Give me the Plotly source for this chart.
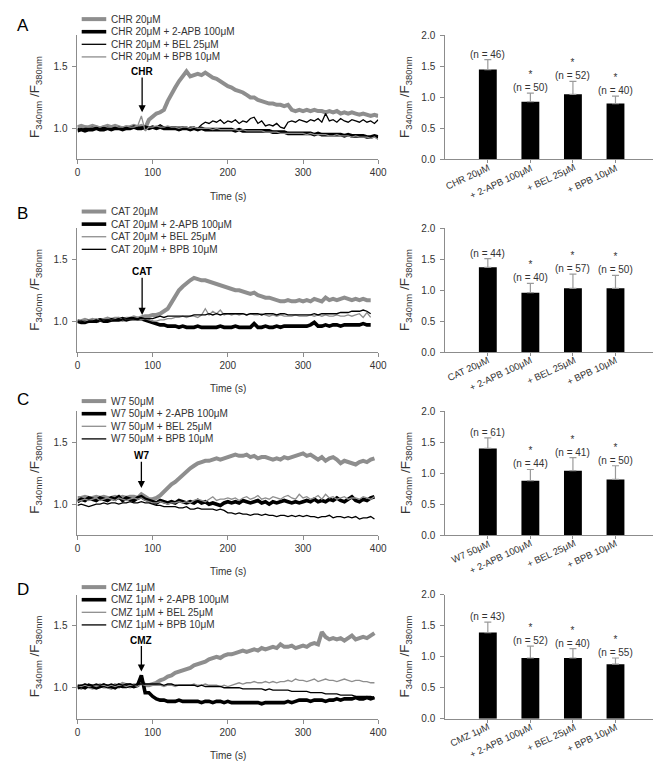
import plotly.graph_objects as go

# -- Time bases (s) -----------------------------------------------------------
T_A = list(range(0, 405, 5))
T_B = list(range(0, 395, 5))
T_C = list(range(0, 400, 5))
T_D = list(range(0, 400, 5))

# -- Panel A: CHR traces ------------------------------------------------------
A_MAIN = [1.01, 1.02, 1.01, 1.01, 1.02, 1.01, 1.00, 1.01, 1.02, 1.01, 1.02, 1.01, 1.00, 1.01, 1.01, 1.02, 1.01, 1.02,
          1.00, 1.07, 1.10, 1.12, 1.13, 1.15, 1.22, 1.28, 1.33, 1.38, 1.42, 1.46, 1.42, 1.43, 1.44, 1.43, 1.45, 1.43,
          1.41, 1.40, 1.38, 1.36, 1.34, 1.33, 1.31, 1.30, 1.29, 1.27, 1.25, 1.25, 1.23, 1.22, 1.21, 1.20, 1.20, 1.19,
          1.19, 1.18, 1.19, 1.15, 1.14, 1.15, 1.14, 1.15, 1.14, 1.15, 1.14, 1.14, 1.13, 1.14, 1.13, 1.14, 1.12, 1.13,
          1.12, 1.13, 1.12, 1.11, 1.12, 1.11, 1.10, 1.11, 1.10]
A_APB = [0.98, 0.99, 0.98, 0.99, 0.99, 1.00, 0.99, 0.99, 1.00, 0.99, 1.00, 1.00, 0.99, 1.00, 1.00, 1.01, 1.00, 1.00, 1.01, 1.00,
         1.01, 1.00, 1.01, 1.00, 1.00, 1.00, 1.00, 0.99, 1.00, 1.00, 0.99, 1.00, 0.99, 1.00, 0.99, 0.99, 0.99, 0.99, 0.99, 0.99,
         0.99, 0.99, 0.98, 0.99, 0.98, 0.98, 0.98, 0.98, 0.98, 0.98, 0.98, 0.98, 0.97, 0.97, 0.97, 0.97, 0.96, 0.96, 0.96, 0.96,
         0.96, 0.96, 0.96, 0.95, 0.96, 0.95, 0.95, 0.95, 0.95, 0.95, 0.95, 0.94, 0.95, 0.94, 0.94, 0.94, 0.94, 0.93, 0.93, 0.94, 0.93]
A_BEL = [1.00, 0.99, 1.00, 1.00, 1.01, 1.00, 1.00, 1.01, 1.00, 1.00, 1.01, 1.01, 1.00, 1.01, 1.00, 1.01, 1.00, 1.01, 1.00, 1.01,
         1.01, 1.01, 1.03, 1.01, 1.01, 1.01, 1.01, 1.01, 1.01, 1.00, 1.01, 1.01, 1.00, 1.03, 1.05, 1.04, 1.06, 1.05, 1.07, 1.04,
         1.06, 1.05, 1.07, 1.04, 1.06, 1.05, 1.08, 1.09, 1.04, 1.06, 1.02, 1.03, 1.02, 1.04, 1.01, 1.00, 1.05, 1.06, 1.05, 1.07,
         1.06, 1.05, 1.07, 1.06, 1.08, 1.05, 1.12, 1.06, 1.07, 1.05, 1.08, 1.06, 1.05, 1.07, 1.06, 1.05, 1.07, 1.05, 1.06, 1.04, 1.07]
A_BPB = [1.02, 1.01, 1.02, 1.01, 1.01, 1.02, 1.01, 1.02, 1.01, 1.01, 1.02, 1.01, 1.01, 1.02, 1.01, 1.01, 1.02, 1.10, 0.98, 1.01,
         1.01, 1.02, 1.01, 1.01, 1.02, 1.01, 1.01, 1.00, 1.01, 1.01, 1.00, 1.01, 1.00, 1.00, 1.00, 1.00, 0.99, 1.00, 0.99, 0.99,
         0.99, 0.99, 0.99, 0.98, 0.99, 0.98, 0.98, 0.98, 0.98, 0.98, 0.97, 0.97, 0.97, 0.97, 0.96, 0.96, 0.96, 0.96, 0.96, 0.96,
         0.96, 0.95, 0.96, 0.95, 0.95, 0.95, 0.95, 0.94, 0.94, 0.95, 0.94, 0.94, 0.94, 0.93, 0.94, 0.93, 0.93, 0.93, 0.92, 0.93, 0.91]

# -- Panel B: CAT traces ------------------------------------------------------
B_MAIN = [1.00, 1.00, 1.01, 1.00, 1.01, 1.00, 1.01, 1.01, 1.02, 1.01, 1.02, 1.02, 1.01, 1.02, 1.02, 1.03, 1.02, 1.03, 1.04, 1.04,
          1.05, 1.05, 1.06, 1.08, 1.10, 1.15, 1.20, 1.25, 1.28, 1.31, 1.33, 1.35, 1.34, 1.33, 1.33, 1.32, 1.31, 1.30, 1.29, 1.28,
          1.27, 1.26, 1.25, 1.25, 1.24, 1.23, 1.22, 1.23, 1.21, 1.20, 1.19, 1.19, 1.18, 1.17, 1.16, 1.16, 1.17, 1.16, 1.16, 1.17,
          1.16, 1.17, 1.16, 1.18, 1.17, 1.16, 1.19, 1.17, 1.18, 1.17, 1.18, 1.19, 1.18, 1.17, 1.18, 1.17, 1.18, 1.17, 1.17]
B_APB = [1.00, 0.99, 0.99, 1.00, 1.00, 1.00, 1.01, 1.00, 1.00, 1.01, 1.01, 1.01, 1.02, 1.01, 1.02, 1.02, 1.02, 1.02, 1.01, 1.00,
         0.99, 0.98, 0.97, 0.97, 0.96, 0.96, 0.96, 0.95, 0.96, 0.95, 0.95, 0.95, 0.96, 0.95, 0.95, 0.95, 0.95, 0.95, 0.96, 0.95,
         0.95, 0.95, 0.96, 0.95, 0.95, 0.95, 0.95, 0.98, 0.95, 0.95, 0.96, 0.95, 0.95, 0.96, 0.95, 0.96, 0.96, 0.96, 0.96, 0.96,
         0.96, 0.96, 0.97, 0.99, 0.96, 0.96, 0.97, 0.96, 0.97, 0.97, 0.96, 0.97, 0.97, 0.97, 0.97, 0.97, 0.98, 0.97, 0.97]
B_BEL = [1.01, 1.00, 1.00, 1.01, 1.01, 1.02, 1.00, 1.01, 1.02, 1.01, 1.02, 1.03, 1.01, 1.02, 1.02, 1.02, 1.03, 1.01, 1.02, 1.01,
         1.00, 1.00, 1.01, 1.01, 1.02, 1.02, 1.03, 1.03, 1.04, 1.03, 1.04, 1.04, 1.03, 1.05, 1.10, 1.05, 1.08, 1.06, 1.09, 1.05,
         1.06, 1.05, 1.06, 1.05, 1.06, 1.05, 1.06, 1.05, 1.05, 1.06, 1.05, 1.04, 1.05, 1.04, 1.05, 1.04, 1.04, 1.04, 1.05, 1.04,
         1.04, 1.04, 1.05, 1.04, 1.05, 1.04, 1.05, 1.04, 1.04, 1.05, 1.04, 1.04, 1.05, 1.04, 1.05, 1.06, 1.03, 1.07, 1.03]
B_BPB = [1.00, 1.00, 0.99, 1.00, 1.00, 1.01, 1.00, 1.01, 1.01, 1.01, 1.01, 1.02, 1.01, 1.02, 1.02, 1.02, 1.02, 1.02, 1.02, 1.02,
         1.02, 1.03, 1.04, 1.03, 1.04, 1.04, 1.04, 1.04, 1.04, 1.04, 1.04, 1.05, 1.05, 1.05, 1.05, 1.06, 1.05, 1.06, 1.05, 1.06,
         1.06, 1.06, 1.06, 1.06, 1.06, 1.05, 1.06, 1.06, 1.06, 1.05, 1.06, 1.06, 1.06, 1.05, 1.06, 1.06, 1.05, 1.05, 1.05, 1.05,
         1.05, 1.05, 1.05, 1.06, 1.05, 1.06, 1.06, 1.06, 1.06, 1.06, 1.07, 1.07, 1.07, 1.08, 1.08, 1.08, 1.09, 1.08, 1.06]

# -- Panel C: W7 traces -------------------------------------------------------
C_MAIN = [1.05, 1.05, 1.06, 1.05, 1.05, 1.06, 1.05, 1.06, 1.05, 1.05, 1.06, 1.05, 1.06, 1.05, 1.06, 1.06, 1.05, 1.08, 1.06, 1.04,
          1.04, 1.05, 1.07, 1.10, 1.14, 1.16, 1.18, 1.21, 1.24, 1.27, 1.29, 1.31, 1.33, 1.34, 1.35, 1.35, 1.36, 1.37, 1.36, 1.37,
          1.38, 1.39, 1.40, 1.39, 1.39, 1.40, 1.38, 1.39, 1.37, 1.38, 1.38, 1.37, 1.36, 1.37, 1.36, 1.38, 1.37, 1.38, 1.39, 1.40,
          1.41, 1.39, 1.40, 1.38, 1.36, 1.38, 1.35, 1.37, 1.38, 1.36, 1.33, 1.35, 1.34, 1.33, 1.32, 1.34, 1.35, 1.34, 1.36, 1.37]
C_APB = [1.02, 1.04, 1.03, 1.05, 1.04, 1.03, 1.05, 1.04, 1.03, 1.05, 1.04, 1.06, 1.03, 1.05, 1.04, 1.03, 1.05, 1.06, 1.04, 1.03,
         1.02, 1.01, 1.03, 1.02, 1.01, 1.02, 1.01, 1.03, 1.02, 1.01, 1.02, 1.01, 1.03, 1.01, 1.02, 1.00, 1.01, 1.00, 0.99, 1.01,
         1.02, 1.01, 1.02, 1.01, 1.03, 1.02, 1.01, 1.02, 1.03, 1.01, 1.02, 1.00, 1.02, 1.01, 1.02, 1.03, 1.02, 1.01, 1.02, 1.01,
         1.02, 1.03, 1.02, 1.04, 1.02, 1.03, 1.02, 1.04, 1.03, 1.05, 1.03, 1.02, 1.04, 1.06, 1.03, 1.02, 1.04, 1.03, 1.05, 1.06]
C_BEL = [1.02, 1.03, 1.04, 1.03, 1.04, 1.05, 1.03, 1.04, 1.05, 1.04, 1.03, 1.05, 1.04, 1.03, 1.04, 1.05, 1.04, 1.05, 1.03, 1.02,
         1.01, 1.01, 1.02, 1.01, 1.00, 1.01, 1.01, 1.02, 1.01, 1.02, 1.01, 1.03, 1.04, 1.03, 1.02, 1.04, 1.06, 1.03, 1.04, 1.04,
         1.05, 1.04, 1.05, 1.03, 1.05, 1.06, 1.04, 1.05, 1.07, 1.04, 1.05, 1.04, 1.06, 1.05, 1.04, 1.06, 1.07, 1.05, 1.04, 1.08,
         1.05, 1.06, 1.04, 1.05, 1.07, 1.04, 1.08, 1.05, 1.06, 1.04, 1.05, 1.06, 1.04, 1.05, 1.05, 1.04, 1.06, 1.05, 1.04, 1.06]
C_BPB = [0.99, 1.00, 0.99, 0.98, 0.99, 1.00, 1.00, 1.01, 1.00, 1.01, 1.01, 1.00, 1.01, 1.01, 1.02, 1.01, 1.01, 1.02, 1.01, 1.01,
         1.00, 0.99, 0.99, 0.98, 0.98, 0.98, 0.98, 0.97, 0.97, 0.98, 0.96, 0.96, 0.97, 0.96, 0.96, 0.96, 0.96, 0.95, 0.96, 0.95,
         0.93, 0.93, 0.92, 0.93, 0.92, 0.92, 0.91, 0.92, 0.92, 0.91, 0.92, 0.91, 0.91, 0.90, 0.91, 0.91, 0.90, 0.91, 0.90, 0.91,
         0.90, 0.91, 0.90, 0.90, 0.89, 0.90, 0.90, 0.91, 0.89, 0.90, 0.90, 0.89, 0.90, 0.89, 0.90, 0.88, 0.89, 0.89, 0.90, 0.88]

# -- Panel D: CMZ traces ------------------------------------------------------
D_MAIN = [1.01, 1.00, 1.02, 1.01, 1.00, 1.01, 1.02, 1.01, 1.01, 1.00, 1.02, 1.01, 1.03, 1.02, 1.01, 1.02, 1.02, 1.05, 1.02, 1.02,
          1.03, 1.04, 1.06, 1.07, 1.09, 1.10, 1.12, 1.13, 1.14, 1.15, 1.16, 1.18, 1.19, 1.20, 1.21, 1.23, 1.24, 1.25, 1.24, 1.26,
          1.27, 1.27, 1.28, 1.29, 1.30, 1.29, 1.30, 1.31, 1.30, 1.32, 1.31, 1.32, 1.33, 1.32, 1.35, 1.33, 1.33, 1.34, 1.32, 1.33,
          1.34, 1.33, 1.35, 1.36, 1.35, 1.45, 1.41, 1.39, 1.40, 1.39, 1.40, 1.38, 1.40, 1.42, 1.39, 1.40, 1.41, 1.40, 1.42, 1.44]
D_APB = [1.00, 1.01, 1.00, 1.02, 1.01, 1.00, 1.01, 1.02, 1.01, 1.01, 1.00, 1.02, 1.01, 1.01, 1.02, 1.01, 1.02, 1.10, 0.96, 0.96,
         0.93, 0.91, 0.90, 0.90, 0.89, 0.89, 0.89, 0.90, 0.89, 0.89, 0.89, 0.89, 0.89, 0.88, 0.89, 0.89, 0.88, 0.89, 0.89, 0.88,
         0.89, 0.88, 0.88, 0.88, 0.88, 0.88, 0.88, 0.88, 0.88, 0.87, 0.88, 0.88, 0.88, 0.88, 0.88, 0.88, 0.89, 0.88, 0.89, 0.90,
         0.90, 0.90, 0.89, 0.90, 0.90, 0.90, 0.89, 0.90, 0.90, 0.91, 0.90, 0.91, 0.91, 0.91, 0.92, 0.91, 0.91, 0.92, 0.91, 0.92]
D_BEL = [1.02, 1.01, 1.02, 1.01, 1.02, 1.01, 1.02, 1.02, 1.01, 1.02, 1.01, 1.02, 1.02, 1.01, 1.02, 1.02, 1.01, 1.03, 1.02, 1.02,
         1.02, 1.02, 1.02, 1.01, 1.02, 1.02, 1.01, 1.02, 1.02, 1.02, 1.02, 1.03, 1.02, 1.02, 1.03, 1.02, 1.02, 1.02, 1.01, 1.02,
         1.01, 1.02, 1.03, 1.04, 1.03, 1.04, 1.04, 1.05, 1.04, 1.04, 1.05, 1.04, 1.05, 1.04, 1.05, 1.05, 1.06, 1.05, 1.07, 1.06,
         1.06, 1.05, 1.06, 1.07, 1.05, 1.06, 1.07, 1.06, 1.06, 1.05, 1.06, 1.07, 1.06, 1.05, 1.06, 1.06, 1.05, 1.05, 1.04, 1.04]
D_BPB = [1.02, 1.02, 1.03, 1.02, 1.02, 1.03, 1.02, 1.03, 1.02, 1.03, 1.02, 1.03, 1.02, 1.03, 1.03, 1.02, 1.03, 1.03, 1.03, 1.03,
         1.03, 1.03, 1.03, 1.02, 1.03, 1.03, 1.02, 1.02, 1.02, 1.02, 1.02, 1.02, 1.01, 1.02, 1.01, 1.01, 1.01, 1.01, 1.01, 1.00,
         1.00, 1.00, 1.00, 1.00, 0.99, 0.99, 0.99, 0.99, 0.99, 0.99, 0.98, 0.99, 0.98, 0.98, 0.98, 0.98, 0.98, 0.97, 0.97, 0.97,
         0.97, 0.97, 0.96, 0.96, 0.96, 0.96, 0.95, 0.95, 0.95, 0.95, 0.94, 0.94, 0.94, 0.94, 0.93, 0.93, 0.93, 0.93, 0.93, 0.92]

# -- Bar summaries --------------------------------------------------------------
AGENTS      = ["CHR", "CAT", "W7", "CMZ"]
DOSES       = ["20μM", "20μM", "50μM", "1μM"]
BLOCKERS    = ["2-APB 100μM", "BEL 25μM", "BPB 10μM"]
BAR_MEAN    = [[1.45, 0.93, 1.05, 0.90],
               [1.37, 0.96, 1.03, 1.03],
               [1.40, 0.88, 1.04, 0.90],
               [1.39, 0.98, 0.98, 0.88]]
BAR_ERR     = [[0.16, 0.14, 0.21, 0.12],
               [0.14, 0.15, 0.23, 0.21],
               [0.17, 0.18, 0.21, 0.22],
               [0.17, 0.19, 0.15, 0.10]]
BAR_N       = [[46, 50, 52, 40],
               [44, 40, 57, 50],
               [61, 44, 41, 50],
               [43, 52, 40, 55]]
SIGNIF      = [False, True, True, True]

# stimulus arrow: time, head level, label level
ARROW_T     = [86, 86, 85, 85]
ARROW_HEAD  = [1.13, 1.05, 1.13, 1.13]
ARROW_LABEL = [1.46, 1.40, 1.39, 1.385]

TIMES  = [T_A, T_B, T_C, T_D]
TRACES = [[A_MAIN, A_APB, A_BEL, A_BPB],
          [B_MAIN, B_APB, B_BEL, B_BPB],
          [C_MAIN, C_APB, C_BEL, C_BPB],
          [D_MAIN, D_APB, D_BEL, D_BPB]]

# -- Styling ------------------------------------------------------------------
W, H      = 661, 761
FONT      = "Liberation Sans, Arial, sans-serif"
TXT       = "#333333"
AXIS      = "#8c8c8c"
GREY      = "#8e8e8e"
# style per trace (main, 2-APB, BEL, BPB); BEL/BPB colours swap in panel A
STYLES = [
    [(GREY, 4.0), ("black", 3.6), ("black", 1.3), (GREY, 1.3)],
    [(GREY, 4.0), ("black", 3.6), (GREY, 1.3), ("black", 1.3)],
    [(GREY, 4.0), ("black", 3.6), (GREY, 1.3), ("black", 1.3)],
    [(GREY, 4.0), ("black", 3.6), (GREY, 1.3), ("black", 1.3)],
]

# panel vertical extents in px (top, bottom) and legend first-row position
PANEL_PX  = [(21.8, 147.7), (217.8, 343.5), (403.6, 529.5), (590.1, 716.0)]
LEGEND_Y0 = [5.2, 200.7, 393.3, 582.3]
LETTER_Y  = [12, 203, 392, 585]
TIME_Y    = [185, 381, 566, 753]
LINE_X    = (67.7, 374.0)
BAR_X     = (442.3, 659.0)
CAT_ANGLE = -25


def px(x):
    return x / W


def py(y):
    return 1 - y / H


def axname(n, kind):
    return f"{kind}axis" if n == 1 else f"{kind}axis{n}"


def axref(n, kind):
    return kind if n == 1 else f"{kind}{n}"


fig = go.Figure()
annotations = []
shapes = []
layout = {}

for i in range(4):
    nl, nb = 2 * i + 1, 2 * i + 2
    top, bot = PANEL_PX[i]
    ydom = [py(bot), py(top)]
    agent = f"{AGENTS[i]} {DOSES[i]}"
    names = [agent] + [f"{agent} + {b}" for b in BLOCKERS]

    # time courses
    for k, y in enumerate(TRACES[i]):
        assert len(y) == len(TIMES[i]), (i, k, len(y))
        col, wid = STYLES[i][k]
        fig.add_trace(go.Scatter(
            x=TIMES[i], y=y, mode="lines", name=names[k],
            line=dict(color=col, width=wid),
            xaxis=axref(nl, "x"), yaxis=axref(nl, "y"), showlegend=False,
        ))

    # summary bars
    cats = [agent] + [f"+ {b}" for b in BLOCKERS]
    fig.add_trace(go.Bar(
        x=cats, y=BAR_MEAN[i], width=0.42,
        marker=dict(color="black", line=dict(width=0)),
        error_y=dict(type="data", symmetric=False, array=BAR_ERR[i],
                     arrayminus=[0] * 4, color="#9a9a9a", thickness=1.2, width=3.5),
        xaxis=axref(nb, "x"), yaxis=axref(nb, "y"), showlegend=False,
    ))

    common = dict(showline=True, linecolor=AXIS, linewidth=1, showgrid=False,
                  zeroline=False, ticks="outside", ticklen=4, tickcolor=AXIS,
                  tickfont=dict(size=10, color=TXT, family=FONT))
    layout[axname(nl, "x")] = dict(common, domain=[px(LINE_X[0]), px(LINE_X[1])],
                                   range=[0, 400], tickvals=[0, 100, 200, 300, 400],
                                   anchor=axref(nl, "y"))
    layout[axname(nl, "y")] = dict(common, domain=ydom, range=[0.75, 1.75],
                                   tickvals=[1.0, 1.5], tickformat=".1f",
                                   ticklabelstandoff=3, anchor=axref(nl, "x"))
    # category labels are written as rotated annotations below, so they can
    # sit tight under the axis like the original
    layout[axname(nb, "x")] = dict(common, domain=[px(BAR_X[0]), px(BAR_X[1])],
                                   type="category", range=[-1, 4], ticklen=3,
                                   showticklabels=False, anchor=axref(nb, "y"))
    layout[axname(nb, "y")] = dict(common, domain=ydom, range=[0, 2],
                                   tickvals=[0, 0.5, 1.0, 1.5, 2.0], tickformat=".1f",
                                   ticklabelstandoff=3, anchor=axref(nb, "x"))

    for j in range(4):
        annotations.append(dict(
            x=cats[j], y=0, xref=axref(nb, "x"), yref=axref(nb, "y"),
            text=cats[j], textangle=CAT_ANGLE, showarrow=False,
            xanchor="right", yanchor="top", xshift=5, yshift=-1, borderpad=0,
            font=dict(size=9.5, color=TXT, family=FONT),
        ))

    # n labels and significance stars
    for j in range(4):
        txt = f"(n = {BAR_N[i][j]})"
        if SIGNIF[j]:
            txt = "*<br>" + txt
        annotations.append(dict(
            x=cats[j], y=BAR_MEAN[i][j] + BAR_ERR[i][j], xref=axref(nb, "x"),
            yref=axref(nb, "y"), text=txt, showarrow=False, yanchor="bottom",
            yshift=-2, font=dict(size=10, color=TXT, family=FONT),
        ))

    # stimulus arrow
    annotations.append(dict(
        x=ARROW_T[i], y=ARROW_HEAD[i], ax=ARROW_T[i], ay=ARROW_LABEL[i],
        xref=axref(nl, "x"), yref=axref(nl, "y"),
        axref=axref(nl, "x"), ayref=axref(nl, "y"),
        text=f"<b>{AGENTS[i]}</b>", showarrow=True, arrowhead=2, arrowsize=1.1,
        arrowwidth=1.3, arrowcolor="black", standoff=0, borderpad=0,
        font=dict(size=10, color="black", family=FONT),
    ))

    # y titles
    ytitle = "F<sub>340nm</sub> /F<sub>380nm</sub>"
    ymid = py((top + bot) / 2)
    for xpos in (25, 402):
        annotations.append(dict(
            x=px(xpos), y=ymid, xref="paper", yref="paper", text=ytitle,
            textangle=-90, showarrow=False, xanchor="center", yanchor="middle",
            font=dict(size=13.5, color=TXT, family=FONT),
        ))

    # x title
    annotations.append(dict(
        x=px(sum(LINE_X) / 2), y=py(TIME_Y[i]), xref="paper", yref="paper",
        text="Time (s)", showarrow=False, yanchor="middle",
        font=dict(size=10, color=TXT, family=FONT),
    ))

    # panel letter
    annotations.append(dict(
        x=px(4), y=py(LETTER_Y[i]), xref="paper", yref="paper",
        text="ABCD"[i], showarrow=False, xanchor="left", yanchor="middle",
        font=dict(size=17, color="black", family=FONT),
    ))

    # legend (drawn by hand for tight row spacing)
    for k in range(4):
        yy = LEGEND_Y0[i] + 12.8 * k
        col, wid = STYLES[i][k]
        shapes.append(dict(type="line", xref="paper", yref="paper",
                           x0=px(72), x1=px(97), y0=py(yy), y1=py(yy),
                           line=dict(color=col, width=wid)))
        annotations.append(dict(
            x=px(100), y=py(yy), xref="paper", yref="paper", text=names[k],
            showarrow=False, xanchor="left", yanchor="middle",
            font=dict(size=10, color=TXT, family=FONT),
        ))

fig.update_layout(
    width=W, height=H, autosize=False,
    margin=dict(l=0, r=0, t=0, b=0),
    paper_bgcolor="white", plot_bgcolor="white",
    font=dict(family=FONT, size=10, color=TXT),
    annotations=annotations, shapes=shapes, showlegend=False,
    **layout,
)

fig.write_html("out.html")
